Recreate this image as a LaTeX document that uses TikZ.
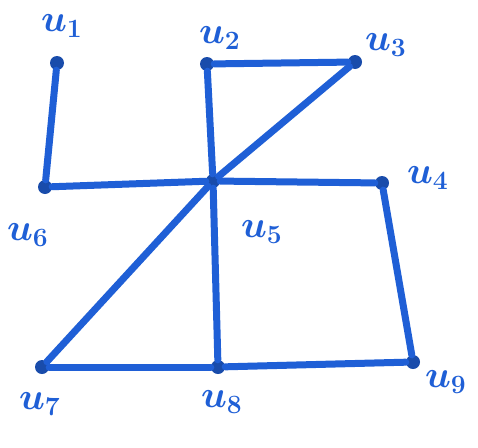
\documentclass[tikz,border=0pt]{standalone}
\usepackage{graphicx}
\newcommand{\lbl}[1]{\scalebox{2.2}{\LARGE\boldmath$#1$}}
\begin{document}
\begin{tikzpicture}[x=1pt,y=-1pt,
  edge/.style={draw=myblue,line width=7pt,line cap=round,line join=round},
  vtx/.style={circle,fill=myblue!80!black,inner sep=0pt,minimum size=14pt},
  lab/.style={text=myblue,inner sep=0pt}]
\definecolor{myblue}{HTML}{1F5FD6}
\useasboundingbox (0,0) rectangle (478,447);
\fill[white] (0,0) rectangle (478,447);
\node[vtx] (u1) at (57,63) {};
\node[vtx] (u2) at (207,64) {};
\node[vtx] (u3) at (355,62) {};
\node[vtx] (u4) at (382,183) {};
\node[vtx] (u5) at (213,181) {};
\node[vtx] (u6) at (45,187) {};
\node[vtx] (u7) at (42,367) {};
\node[vtx] (u8) at (218,367) {};
\node[vtx] (u9) at (413,362) {};
\draw[edge] (u1) -- (u6);
\draw[edge] (u6) -- (u5);
\draw[edge] (u5) -- (u4);
\draw[edge] (u4) -- (u9);
\draw[edge] (u9) -- (u8);
\draw[edge] (u8) -- (u7);
\draw[edge] (u7) -- (u5);
\draw[edge] (u5) -- (u3);
\draw[edge] (u3) -- (u2);
\draw[edge] (u2) -- (u5);
\draw[edge] (u5) -- (u8);
\node[lab] (l1) at (62,26) {\lbl{u_1}};
\node[lab] (l2) at (220,38) {\lbl{u_2}};
\node[lab] (l3) at (386,45) {\lbl{u_3}};
\node[lab] (l4) at (428,178) {\lbl{u_4}};
\node[lab] (l5) at (262,232) {\lbl{u_5}};
\node[lab] (l6) at (28,235) {\lbl{u_6}};
\node[lab] (l7) at (40,404) {\lbl{u_7}};
\node[lab] (l8) at (222,402) {\lbl{u_8}};
\node[lab] (l9) at (446,382) {\lbl{u_9}};
\end{tikzpicture}
\end{document}
